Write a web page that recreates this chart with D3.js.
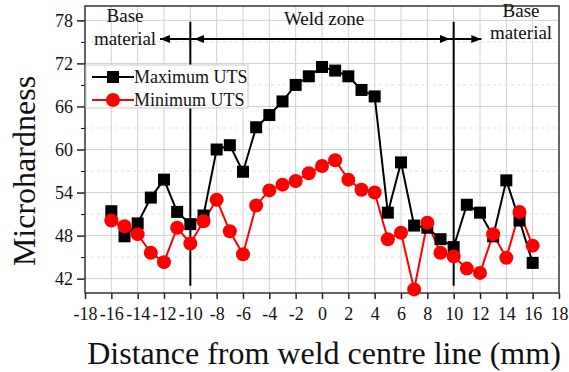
<!DOCTYPE html>
<html>
<head>
<meta charset="utf-8">
<script src="https://cdn.jsdelivr.net/npm/d3@7"></script>
<style>
  body { margin: 0; background: #fff; }
</style>
</head>
<body>
<script>
// distance from weld centre (mm)
const dist = d3.range(-16, 17);
// Maximum UTS hardness
const maxUTS = [51.4, 47.9, 49.7, 53.3, 55.8, 51.3, 49.6, 50.8, 60.0, 60.6, 56.9,
  63.1, 64.8, 66.7, 69.0, 70.2, 71.5, 71.0, 70.2, 68.3, 67.4,
  51.2, 58.2, 49.4, 49.1, 47.5, 46.4, 52.3, 51.2, 47.9, 55.7, 50.1, 44.2];
// Minimum UTS hardness
const minUTS = [50.1, 49.3, 48.2, 45.6, 44.3, 49.1, 46.9, 50.0, 53.0, 48.6, 45.4,
  52.2, 54.3, 55.1, 55.6, 56.7, 57.7, 58.5, 55.8, 54.4, 54.0,
  47.5, 48.4, 40.5, 49.8, 45.6, 45.1, 43.4, 42.8, 48.2, 44.9, 51.3, 46.6];
const xTicks = d3.range(-18, 19, 2);
const yTicks = [42, 48, 54, 60, 66, 72, 78];
const yMinor = [45, 51, 57, 63, 69, 75];

const W = 569, H = 372;
const m = {left: 85, right: 10, top: 6, bottom: 79};
const FONT = '"Liberation Serif", Tinos, "Times New Roman", Times, serif';
const svg = d3.select("body").append("svg").attr("width", W).attr("height", H)
  .attr("font-family", FONT);

const x = d3.scaleLinear().domain([-18, 18]).range([m.left, W - m.right]);
const y = d3.scaleLinear().domain([40, 80]).range([H - m.bottom, m.top]);

// grid
const grid = svg.append("g");
grid.selectAll(".gx").data(xTicks.slice(1, -1)).enter().append("line")
  .attr("x1", d => x(d)).attr("x2", d => x(d))
  .attr("y1", y(80)).attr("y2", y(40))
  .attr("stroke", "#d0d0d0").attr("stroke-width", 1);
grid.selectAll(".gy").data(yTicks).enter().append("line")
  .attr("x1", x(-18)).attr("x2", x(18))
  .attr("y1", d => y(d)).attr("y2", d => y(d))
  .attr("stroke", "#d0d0d0").attr("stroke-width", 1);
grid.selectAll(".gm").data(yMinor).enter().append("line")
  .attr("x1", x(-18)).attr("x2", x(18))
  .attr("y1", d => y(d)).attr("y2", d => y(d))
  .attr("stroke", "#e0e0e0").attr("stroke-dasharray", "3,3");

// axes
const xAxis = svg.append("g").attr("transform", `translate(0,${y(40)})`)
  .call(d3.axisBottom(x).tickValues(xTicks).tickSize(6).tickFormat(d => d));
const yAxis = svg.append("g").attr("transform", `translate(${x(-18)},0)`)
  .call(d3.axisLeft(y).tickValues(yTicks).tickSize(8));
svg.append("g").attr("transform", `translate(${x(-18)},0)`)
  .call(d3.axisLeft(y).tickValues(yMinor).tickSize(4).tickFormat(""))
  .call(g => g.select(".domain").remove());
[xAxis, yAxis].forEach(a => {
  a.attr("font-family", FONT);
  a.selectAll("text").attr("font-size", 18).attr("fill", "#111");
  a.selectAll("line").attr("stroke", "#222").attr("stroke-width", 1.5);
});
xAxis.selectAll("text").attr("y", 27).attr("dy", 0);
yAxis.selectAll("text").attr("x", -12);
svg.selectAll(".domain").attr("stroke", "none");

// frame
svg.append("rect").attr("x", x(-18)).attr("y", y(80))
  .attr("width", x(18) - x(-18)).attr("height", y(40) - y(80))
  .attr("fill", "none").attr("stroke", "#333").attr("stroke-width", 1.5);

// zone boundaries
[-10, 10].forEach(v => {
  svg.append("line").attr("x1", x(v)).attr("x2", x(v))
    .attr("y1", y(77.8)).attr("y2", y(41))
    .attr("stroke", "#000").attr("stroke-width", 2);
});

// arrows
const defs = svg.append("defs");
defs.append("marker").attr("id", "ah").attr("viewBox", "0 0 10 10")
  .attr("refX", 10).attr("refY", 5).attr("markerWidth", 5).attr("markerHeight", 5)
  .attr("orient", "auto-start-reverse")
  .append("path").attr("d", "M0,1 L10,5 L0,9 Z").attr("fill", "#000");
const ay = y(75.4);
svg.append("line").attr("x1", x(-12.3)).attr("x2", x(12.1)).attr("y1", ay).attr("y2", ay)
  .attr("stroke", "#000").attr("stroke-width", 2);
[[-10, -12.3], [-9.7, -9.7 - 0.01], [9.7, 9.7 + 0.01], [10, 12.1]].forEach(([a, b]) => {
  svg.append("line").attr("x1", x(a)).attr("x2", x(b)).attr("y1", ay).attr("y2", ay)
    .attr("stroke", "#000").attr("stroke-width", 2).attr("marker-end", "url(#ah)");
});

// zone labels
const lbl = (t, xv, yp) => svg.append("text").attr("x", xv).attr("y", yp)
  .attr("text-anchor", "middle").attr("font-size", 19).attr("fill", "#111").text(t);
lbl("Base", 125, 22);
lbl("material", 125, 45);
lbl("Weld zone", 324, 25);
lbl("Base", 521, 17);
lbl("material", 521, 39);

// series
const line = d3.line().x((d, i) => x(dist[i])).y(d => y(d));
svg.append("path").datum(maxUTS).attr("d", line)
  .attr("fill", "none").attr("stroke", "#000").attr("stroke-width", 2);
svg.append("path").datum(minUTS).attr("d", line)
  .attr("fill", "none").attr("stroke", "#ff0000").attr("stroke-width", 2);
svg.selectAll(".sq").data(maxUTS).enter().append("rect")
  .attr("x", (d, i) => x(dist[i]) - 6).attr("y", d => y(d) - 6)
  .attr("width", 12).attr("height", 12).attr("fill", "#000");
svg.selectAll(".ci").data(minUTS).enter().append("circle")
  .attr("cx", (d, i) => x(dist[i])).attr("cy", d => y(d)).attr("r", 7)
  .attr("fill", "#ff0000");

// legend
const leg = svg.append("g");
leg.append("rect").attr("x", 86).attr("y", 65).attr("width", 162).attr("height", 43)
  .attr("fill", "#fff").attr("stroke", "#ccc").attr("stroke-width", 1);
const items = [["Maximum UTS", "#000", "sq"], ["Minimum UTS", "#ff0000", "ci"]];
items.forEach(([name, c, s], i) => {
  const yy = 77 + i * 23;
  leg.append("line").attr("x1", 92).attr("x2", 134).attr("y1", yy).attr("y2", yy)
    .attr("stroke", c).attr("stroke-width", 2);
  if (s === "sq") leg.append("rect").attr("x", 107).attr("y", yy - 6).attr("width", 12).attr("height", 12).attr("fill", c);
  else leg.append("circle").attr("cx", 113).attr("cy", yy).attr("r", 7).attr("fill", c);
  leg.append("text").attr("x", 134).attr("y", yy + 5.5).attr("font-size", 18).attr("fill", "#111").text(name);
});

// axis titles
svg.append("text").attr("x", 324).attr("y", 364).attr("text-anchor", "middle")
  .attr("font-size", 32).attr("fill", "#111").text("Distance from weld centre line (mm)");
svg.append("text").attr("transform", "translate(35,171) rotate(-90)")
  .attr("text-anchor", "middle").attr("font-size", 32).attr("fill", "#111").text("Microhardness");
</script>
</body>
</html>
